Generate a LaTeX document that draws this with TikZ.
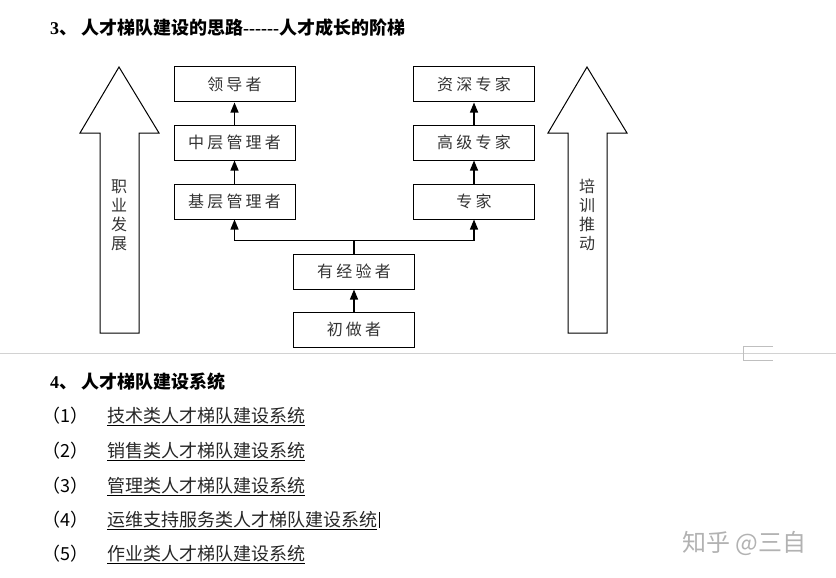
\documentclass[tikz,border=0pt]{standalone}
\usepackage{fontspec}
\setmainfont{Liberation Serif}
\newfontfamily\cjk{Noto Sans CJK SC}
\newfontfamily\cjkbox[LetterSpace=20]{Noto Sans CJK SC}
\usetikzlibrary{arrows.meta}
\newcommand\hy{\mbox{-}}
\begin{document}
\begin{tikzpicture}[x=1pt,y=-1pt,
  box/.style={draw, line width=1pt, minimum width=121pt, minimum height=35pt, inner sep=0pt,
    font=\cjkbox\fontsize{16}{16}\selectfont, text=black!80},
  up/.style={-{Triangle[width=8pt,length=10pt]}, line width=1.2pt},
  bigarrow/.style={draw, line width=1pt, line join=miter},
  vtext/.style={align=center, inner sep=0pt, text=black!80,
    font=\cjk\fontsize{16}{19}\selectfont},
  heading/.style={anchor=west, inner sep=0pt, font=\fontsize{18}{18}\selectfont\bfseries},
  num/.style={anchor=base west, inner sep=0pt, font=\cjk\fontsize{18}{18}\selectfont},
  item/.style={anchor=base west, inner sep=0pt, text=black!85,
    font=\cjk\fontsize{18}{18}\selectfont},
  uline/.style={line width=1pt}
]
\useasboundingbox (0,0) rectangle (836,578);

% heading 3
\node[heading] (h3) at (50,28) {3{\cjk 、\hspace{4pt}人才梯队建设的思路}\hy\hy\hy\hy\hy\hy{\cjk 人才成长的阶梯}};

% big arrows
\draw[bigarrow] (119,67) -- (159,133) -- (139,133) -- (139,333) -- (100,333) -- (100,133) -- (80,133) -- cycle;
\draw[bigarrow] (587,67) -- (627,133) -- (607,133) -- (607,333) -- (568,333) -- (568,133) -- (548,133) -- cycle;
\node[vtext] (careertxt) at (119,215) {职\\业\\发\\展};
\node[vtext] (traintxt) at (587,215) {培\\训\\推\\动};

% boxes
\node[box] (lead) at (234.5,84.5) {领导者};
\node[box] (mid) at (234.5,142.5) {中层管理者};
\node[box] (base) at (234.5,201.5) {基层管理者};
\node[box] (senior) at (474,84.5) {资深专家};
\node[box] (high) at (474,142.5) {高级专家};
\node[box] (expert) at (474,201.5) {专家};
\node[box] (exp) at (354,271.5) {有经验者};
\node[box] (novice) at (354,329.5) {初做者};

\draw[up] (mid) -- (lead);
\draw[up] (base) -- (mid);
\draw[up] (high) -- (senior);
\draw[up] (expert) -- (high);
\draw[up] (novice) -- (exp);
\draw[line width=1.2pt] (exp.north) -- ++(0,-13) coordinate (j);
\draw[up] (j) -| (base.south);
\draw[up] (j) -| (expert.south);

% separator
\draw[gray!35, line width=0.8pt] (0,353) -- (836,353);
\draw[gray!50, line width=0.8pt] (773,346) -- (743,346) -- (743,360) -- (773,360);

% heading 4
\node[heading] (h4) at (50,382) {4{\cjk 、\hspace{4pt}人才梯队建设系统}};

% list
\foreach \i/\t/\y in {1/技术类人才梯队建设系统/415, 2/销售类人才梯队建设系统/450, 3/管理类人才梯队建设系统/485, 4/运维支持服务类人才梯队建设系统/519, 5/作业类人才梯队建设系统/553}{
  \node[num] (n\i) at (42,\y+7) {（\i）};
  \node[item] (t\i) at (107,\y+7) {\t};
  \draw[uline] ([yshift=-3pt]t\i.base west) -- ([yshift=-3pt]t\i.base east);
}
\draw[line width=1.5pt] ([xshift=2pt,yshift=-2pt]t4.base east) -- ([xshift=2pt,yshift=14pt]t4.base east);

% watermark
\node[anchor=west, inner sep=0pt, text=black!30, font=\cjk\fontsize{24}{24}\selectfont] (wm) at (682,543) {知乎 @三自};
\end{tikzpicture}
\end{document}
